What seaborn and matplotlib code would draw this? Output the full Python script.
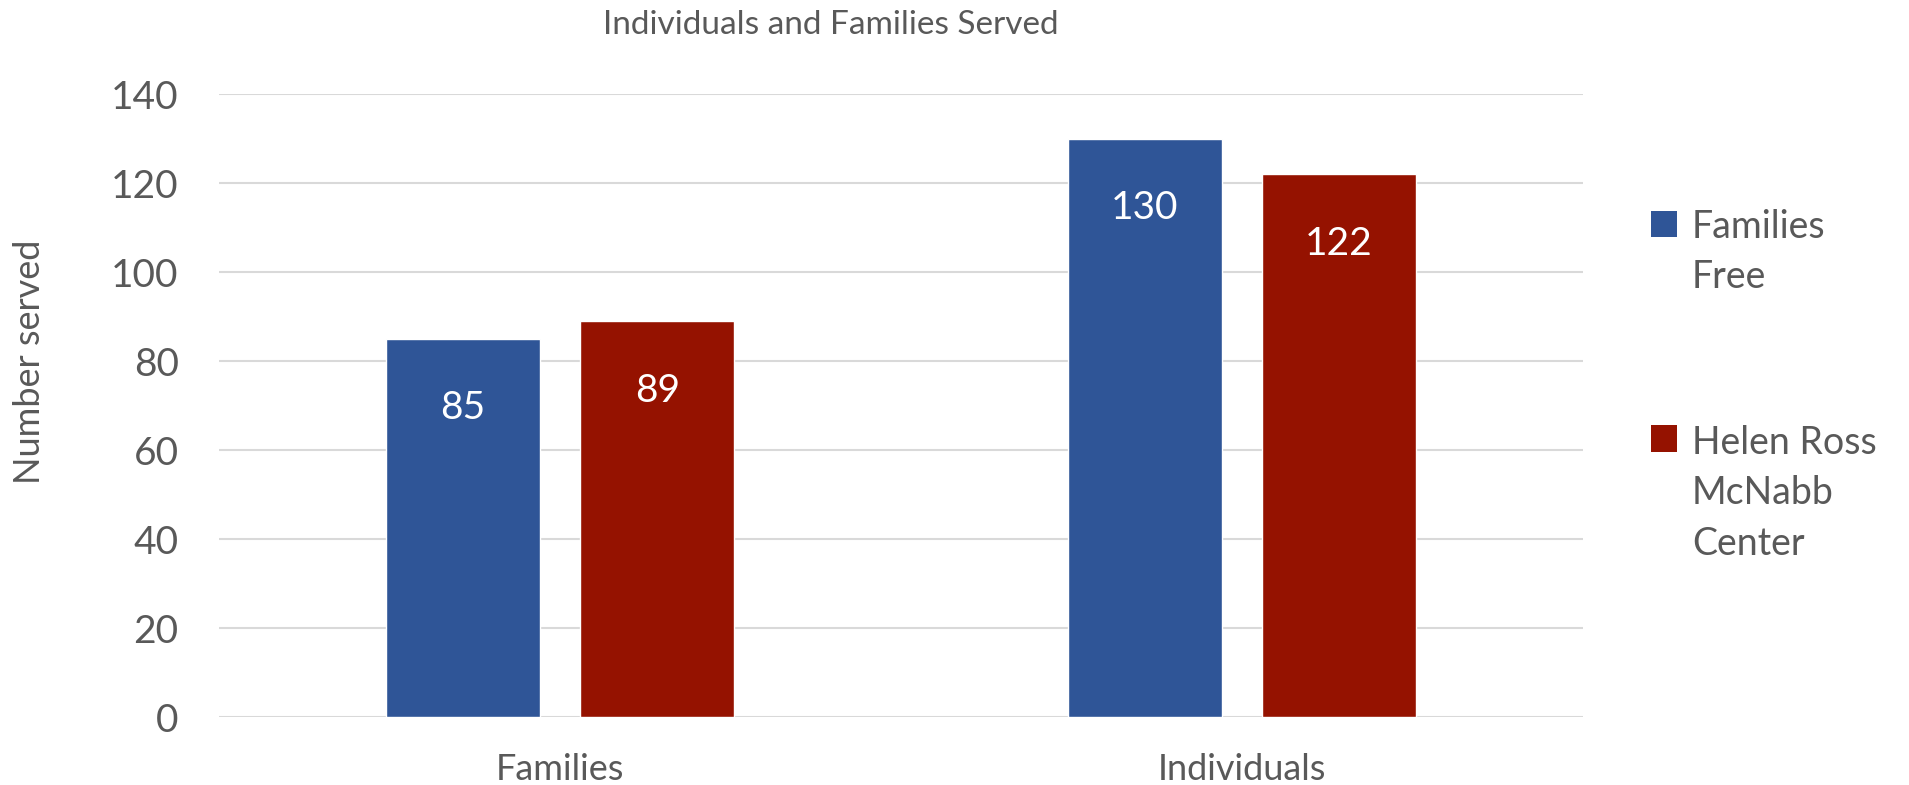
import pandas as pd
import matplotlib.pyplot as plt
import seaborn as sns
from matplotlib.legend_handler import HandlerBase
from matplotlib.patches import Rectangle

# ============================================================
# Data
# ============================================================

categories = ["Families", "Individuals"]
series_names = ["Families\nFree", "Helen Ross\nMcNabb\nCenter"]
families_free = [85, 130]
helen_ross = [89, 122]
colors = ["#2F5597", "#951200"]

df = pd.DataFrame({
    "Category": categories * 2,
    "Series": [series_names[0]] * 2 + [series_names[1]] * 2,
    "Value": families_free + helen_ross,
})


# legend square that sits next to the first line of a multi-line label
class TopSquare(HandlerBase):
    def __init__(self, lift):
        super().__init__()
        self.lift = lift

    def create_artists(self, legend, orig_handle, xdescent, ydescent,
                       width, height, fontsize, trans):
        r = Rectangle((-xdescent, -ydescent + self.lift * fontsize), width, height,
                      facecolor=orig_handle.get_facecolor(), edgecolor="none",
                      transform=trans)
        return [r]


# ============================================================
# Style
# ============================================================

sns.set_theme(style="white")
plt.rcParams["font.family"] = ["Lato", "DejaVu Sans"]
text_color = "#595959"

fig = plt.figure(figsize=(19.09, 7.85), dpi=100)
ax = fig.add_axes([0.1147, 0.0866, 0.7145, 0.7934])

sns.barplot(
    data=df,
    x="Category",
    y="Value",
    hue="Series",
    palette=colors,
    width=0.57,
    gap=0.21,
    saturation=1,
    ax=ax,
    zorder=3,
)

ax.set_ylim(0, 140)
ax.set_xlim(-0.5, 1.5)
ax.set_yticks(range(0, 141, 20))
ax.grid(axis="y", color="#D9D9D9", linewidth=1.5, zorder=0)
ax.set_axisbelow(True)
for s in ax.spines.values():
    s.set_visible(False)

ax.tick_params(axis="y", labelsize=28, labelcolor=text_color, length=0, pad=29)
ax.tick_params(axis="x", labelsize=26, labelcolor=text_color, length=0, pad=26)
ax.set_xlabel("")
ax.set_ylabel("Number served", fontsize=26, color=text_color)
ax.yaxis.set_label_coords(-0.127, 0.57)

# values inside bars
for container in ax.containers:
    ax.bar_label(container, fmt="%d", padding=-63, color="white", fontsize=28)

fig.text(0.435, 0.968, "Individuals and Families Served", ha="center", va="center",
         fontsize=24, color=text_color)

handles, labels = ax.get_legend_handles_labels()
lifts = [0.78, 1.5]
leg = ax.legend(
    handles,
    labels,
    loc="upper left",
    bbox_to_anchor=(1.025, 0.87),
    frameon=False,
    fontsize=27,
    labelcolor=text_color,
    handlelength=0.7,
    handleheight=0.7,
    handletextpad=0.4,
    labelspacing=3.45,
    handler_map={h: TopSquare(l) for h, l in zip(handles, lifts)},
)
for t in leg.get_texts():
    t.set_linespacing(1.5)

plt.savefig("out.png", dpi=100)
